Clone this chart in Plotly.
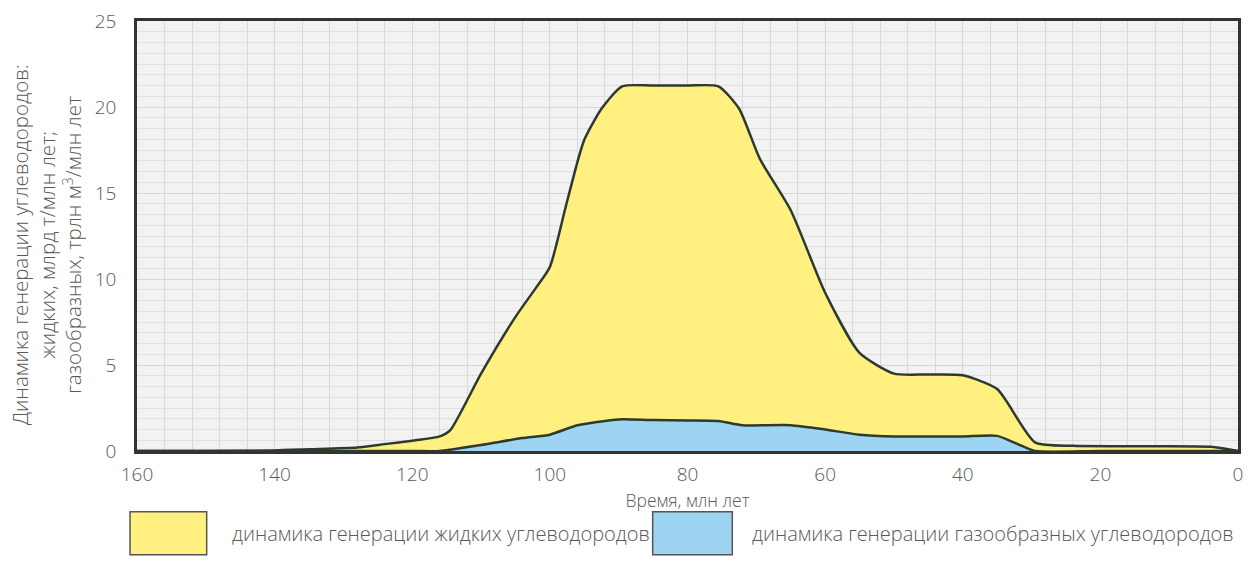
import plotly.graph_objects as go

# Time, Ma (axis runs from old to young)
time_liquid = [160, 150, 140, 135, 128, 124, 120, 116, 114.5, 110, 105, 102, 100,
               97.7, 96, 95, 92.5, 89.5, 85, 80, 75.5, 72.5, 69.5, 65, 60, 55,
               50, 45, 40, 35, 29.5, 24, 15, 4, 0]
# Liquid hydrocarbon generation rate, bln t / Ma
liquid = [0, 0, 0.03, 0.1, 0.2, 0.4, 0.6, 0.85, 1.2, 4.5, 7.8, 9.5, 10.7,
          14.2, 16.8, 18.1, 19.9, 21.2, 21.25, 21.25, 21.2, 19.9, 17.0, 14.0, 9.2, 5.7,
          4.5, 4.45, 4.4, 3.6, 0.5, 0.3, 0.28, 0.25, 0]

time_gas = [160, 140, 120, 116, 110, 104, 100, 96, 92, 89.5, 85, 80, 75.5, 72,
            65, 60, 55, 50, 45, 40, 35, 32, 29.5, 20, 0]
# Gaseous hydrocarbon generation rate, trln m3 / Ma
gas = [0, 0, 0, 0, 0.35, 0.75, 0.95, 1.5, 1.75, 1.85, 1.8, 1.78, 1.75, 1.5,
       1.5, 1.25, 0.95, 0.85, 0.85, 0.85, 0.88, 0.4, 0, 0, 0]

x_ticks = [160, 140, 120, 100, 80, 60, 40, 20, 0]
y_ticks = [0, 5, 10, 15, 20, 25]

label_liquid = "динамика генерации жидких углеводородов"
label_gas = "динамика генерации газообразных углеводородов"

YELLOW = "#FFF07F"
BLUE = "#9DD4F2"
OUTLINE = "#2E3A2E"
TEXT = "#595959"
FONT = "Open Sans"
W = 300

fig = go.Figure()
fig.add_trace(go.Scatter(
    x=time_liquid, y=liquid, mode="lines", fill="tozeroy",
    fillcolor=YELLOW, line=dict(color=OUTLINE, width=2.5, shape="spline", smoothing=0.6),
    name=label_liquid, showlegend=False))
fig.add_trace(go.Scatter(
    x=time_gas, y=gas, mode="lines", fill="tozeroy",
    fillcolor=BLUE, line=dict(color=OUTLINE, width=2.5, shape="spline", smoothing=0.6),
    name=label_gas, showlegend=False))

fig.update_layout(
    width=1251, height=580,
    margin=dict(l=137, r=8, t=20, b=129),
    paper_bgcolor="white", plot_bgcolor="#F2F2F2",
    font=dict(family=FONT, color=TEXT, size=19, weight=W),
)
fig.update_xaxes(
    range=[160, 0], tickvals=x_ticks, ticktext=[str(v) for v in x_ticks],
    tickfont=dict(size=19, weight=W),
    showgrid=True, gridcolor="#D6D6D6", gridwidth=1,
    minor=dict(dtick=4, tick0=0, showgrid=True, gridcolor="#D9D9D9", gridwidth=1),
    showline=True, linecolor="#333333", linewidth=2.5, mirror=True,
    zeroline=False, ticks="", ticklabelstandoff=4,
    title=dict(text="Время, млн лет", font=dict(size=17.5, color=TEXT, weight=W), standoff=10),
)
fig.update_yaxes(
    range=[0, 25], tickvals=y_ticks, tickfont=dict(size=19, weight=W),
    showgrid=True, gridcolor="#D6D6D6", gridwidth=1,
    minor=dict(dtick=0.625, tick0=0, showgrid=True, gridcolor="#E0E0E0", gridwidth=1),
    showline=True, linecolor="#333333", linewidth=2.5, mirror=True,
    zeroline=False, ticks="", ticklabelstandoff=14,
)

# Y-axis title (three lines, rotated)
fig.add_annotation(
    xref="paper", yref="paper", x=-0.082, y=0.48, xanchor="center", yanchor="middle",
    textangle=-90, showarrow=False, align="center",
    text="Динамика генерации углеводородов:<br>жидких, млрд т/млн лет;<br>"
         "газообразных, трлн м<sup>3</sup>/млн лет",
    font=dict(size=20.5, color=TEXT, family=FONT, weight=W),
)

# Legend swatches and labels below the plot
plot_w = 1251 - 137 - 8
plot_h = 580 - 20 - 129


def px_x(p):
    return (p - 137) / plot_w


def px_y(p):
    return (580 - 129 - p) / plot_h


for x0, x1, col, label, tx in [(130, 207, YELLOW, label_liquid, 230),
                                (655, 735, BLUE, label_gas, 753)]:
    fig.add_shape(type="rect", xref="paper", yref="paper",
                  x0=px_x(x0), x1=px_x(x1), y0=px_y(555), y1=px_y(512),
                  fillcolor=col, line=dict(color="#555555", width=1.5))
    fig.add_annotation(xref="paper", yref="paper", x=px_x(tx), y=px_y(534),
                       xanchor="left", yanchor="middle", showarrow=False,
                       text=label, font=dict(size=20, color=TEXT, family=FONT, weight=W))

fig.write_html("out.html")
